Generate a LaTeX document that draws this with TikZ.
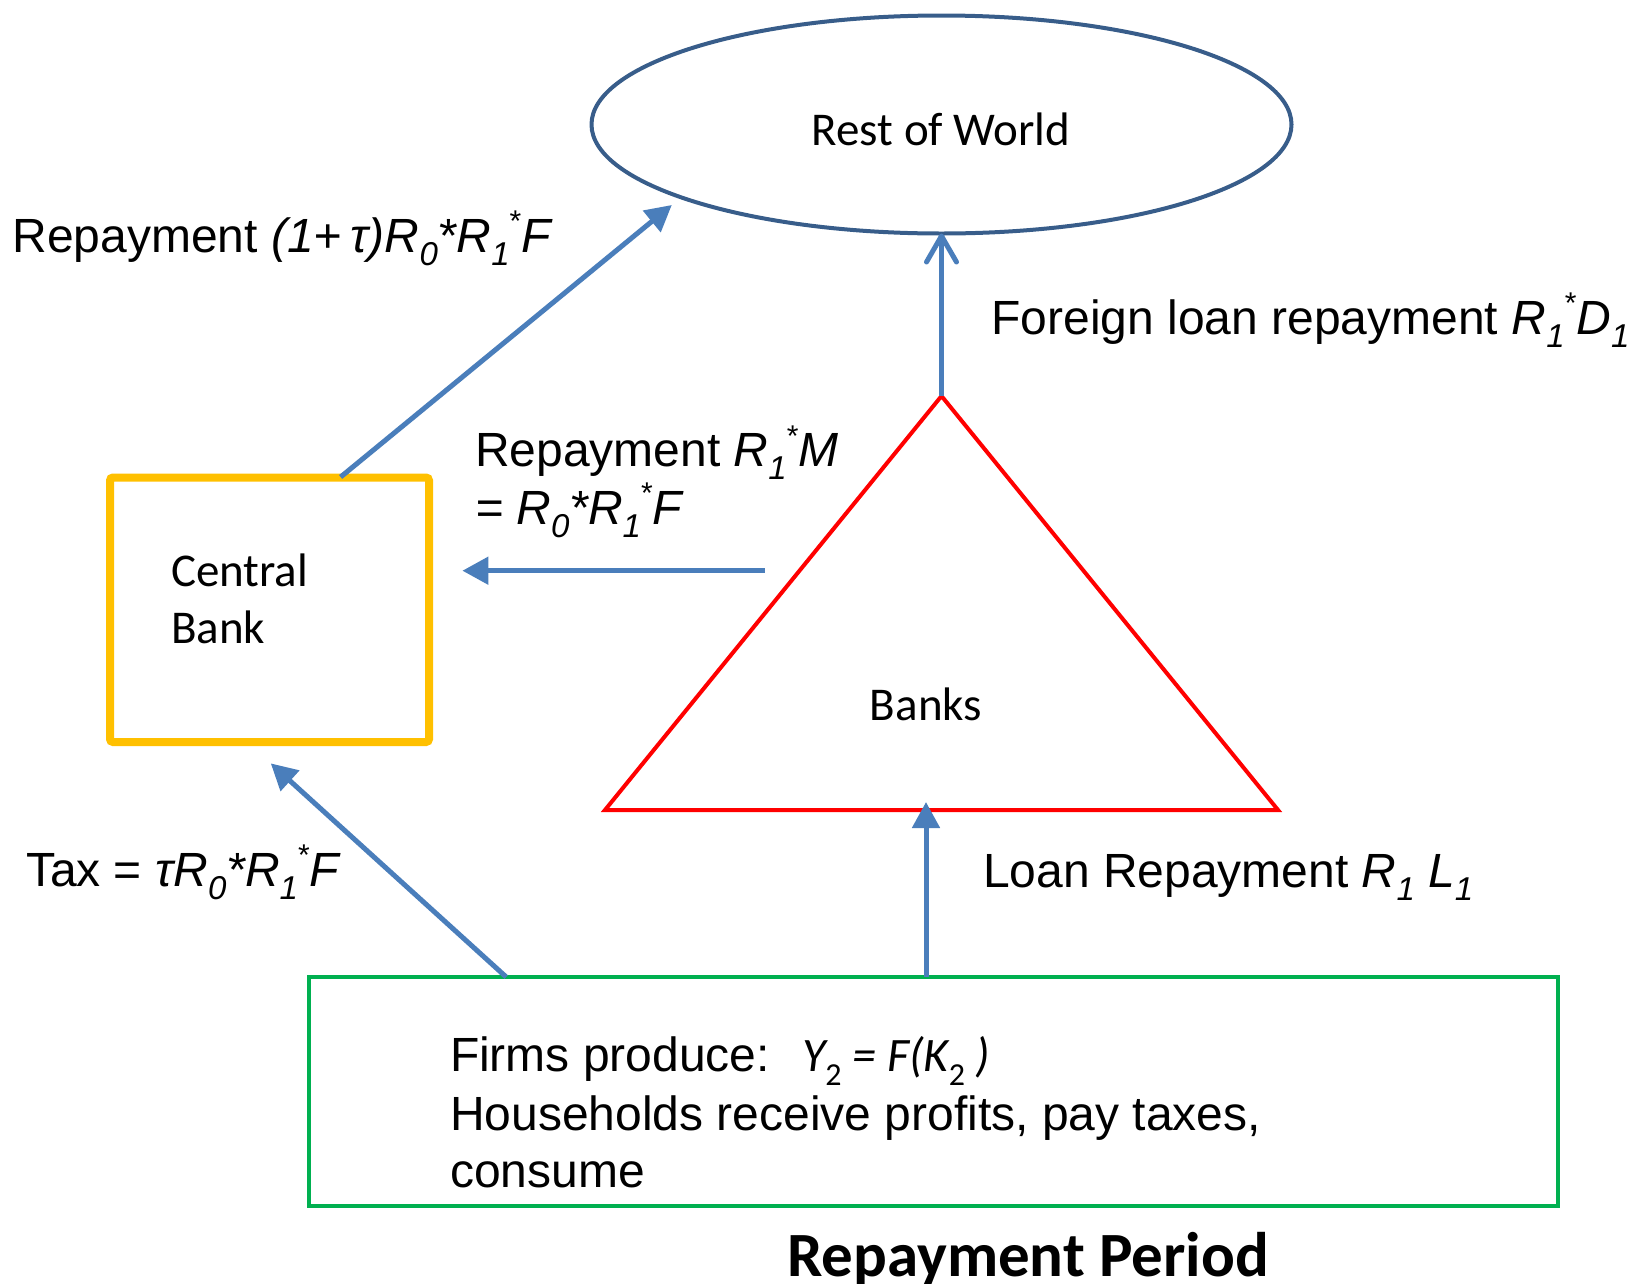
\documentclass[tikz,border=0pt]{standalone}
\usepackage{fontspec}
\setmainfont{Liberation Sans}
\newfontfamily\calfont{Carlito}
\usetikzlibrary{arrows.meta,shapes.geometric}
\newcommand{\lo}[1]{\raisebox{-0.28em}{\fontsize{33}{33}\selectfont\itshape #1}}
\newcommand{\hi}[1]{\raisebox{0.42em}{\fontsize{30}{30}\selectfont #1}}
\newcommand{\clo}[1]{\raisebox{-0.3em}{\fontsize{32}{32}\selectfont\upshape #1}}
\definecolor{arrowblue}{HTML}{4A7EBB}
\definecolor{ellblue}{HTML}{385D8A}
\definecolor{cbor}{HTML}{FFC000}
\definecolor{fgreen}{HTML}{00B050}
\definecolor{bred}{HTML}{FF0000}
\begin{document}
\begin{tikzpicture}[x=1pt,y=-1pt,
  every node/.style={inner sep=0pt, outer sep=0pt},
  lbl/.style={anchor=base west, font=\fontsize{48}{58}\selectfont},
  clbl/.style={font=\calfont\fontsize{47}{56}\selectfont},
  flow/.style={draw=arrowblue, line width=5pt, -{Triangle[length=26pt,width=27pt]}},
  openflow/.style={draw=arrowblue, line width=5pt, -{Straight Barb[round,length=26pt,width=30pt]}}
]
\path[use as bounding box] (0,0) rectangle (1633,1283);

% shapes
\node[draw=ellblue, line width=4pt, ellipse, minimum width=700pt, minimum height=218pt] (row) at (941.5,124.5) {};
\node[clbl, anchor=base] (rowt) at (941,145) {Rest of World};

\coordinate (apex) at (941.5,396);
\coordinate (bl) at (605,810);
\coordinate (br) at (1278,810);
\draw[bred, line width=4pt, line join=miter] (apex) -- (bl) -- (br) -- cycle;
\node[clbl, anchor=base] (banks) at (926,720) {Banks};

\node[draw=cbor, line width=8pt, rounded corners=3pt, minimum width=319pt, minimum height=264.5pt] (cb) at (269.5,609.75) {};
\node[clbl, anchor=base west] (cbt1) at (171,586) {Central};
\node[clbl, anchor=base west] (cbt2) at (171,643) {Bank};

\node[draw=fgreen, line width=4pt, minimum width=1249pt, minimum height=229pt] (firms) at (933.5,1091.5) {};
\node[lbl] (g1) at (450,1071) {Firms produce:\hspace*{32pt}{\calfont\itshape Y\clo{2} = F(K\clo{2} )}};
\node[lbl] (g2) at (450,1130) {Households receive profits, pay taxes,};
\node[lbl] (g3) at (450,1187) {consume};

\node[font=\calfont\bfseries\fontsize{63}{72}\selectfont, anchor=base] (period) at (1028,1276) {Repayment Period};

% connectors
\coordinate (cbtop) at (340.6,477);
\coordinate (rowtip) at (671.8,205);
\draw[flow] (cbtop) -- (rowtip);
\draw[openflow] (apex) -- (row.south);
\coordinate (hstart) at (764.5,570.7);
\coordinate (htip) at (462.4,570.7);
\draw[flow] (hstart) -- (htip);
\coordinate (ftax) at (506.2,977);
\coordinate (cbtip) at (270.8,763.4);
\draw[flow] (ftax) -- (cbtip);
\coordinate (floan) at (926,977);
\coordinate (bktip) at (926,802);
\draw[flow] (floan) -- (bktip);

% labels
\node[lbl] (l1) at (12.5,252) {Repayment \textit{(1+\hspace{9pt}τ)R}\lo{0}\textit{*R}\lo{1}\hi{*}\textit{F}};
\node[lbl] (l2) at (991.5,334) {Foreign loan repayment \textit{R}\lo{1}\hi{*}\textit{D}\lo{1}};
\node[lbl] (l3a) at (475,466.5) {Repayment \textit{R}\lo{1}\hi{*}\textit{M}};
\node[lbl] (l3b) at (475,524) {\textit{= R}\lo{0}\textit{*R}\lo{1}\hi{*}\textit{F}};
\node[lbl] (l4) at (26,886) {Tax = \textit{τR}\lo{0}\textit{*R}\lo{1}\hi{*}\textit{F}};
\node[lbl] (l5) at (983,887) {Loan Repayment \textit{R}\lo{1} \textit{L}\lo{1}};
\end{tikzpicture}
\end{document}
